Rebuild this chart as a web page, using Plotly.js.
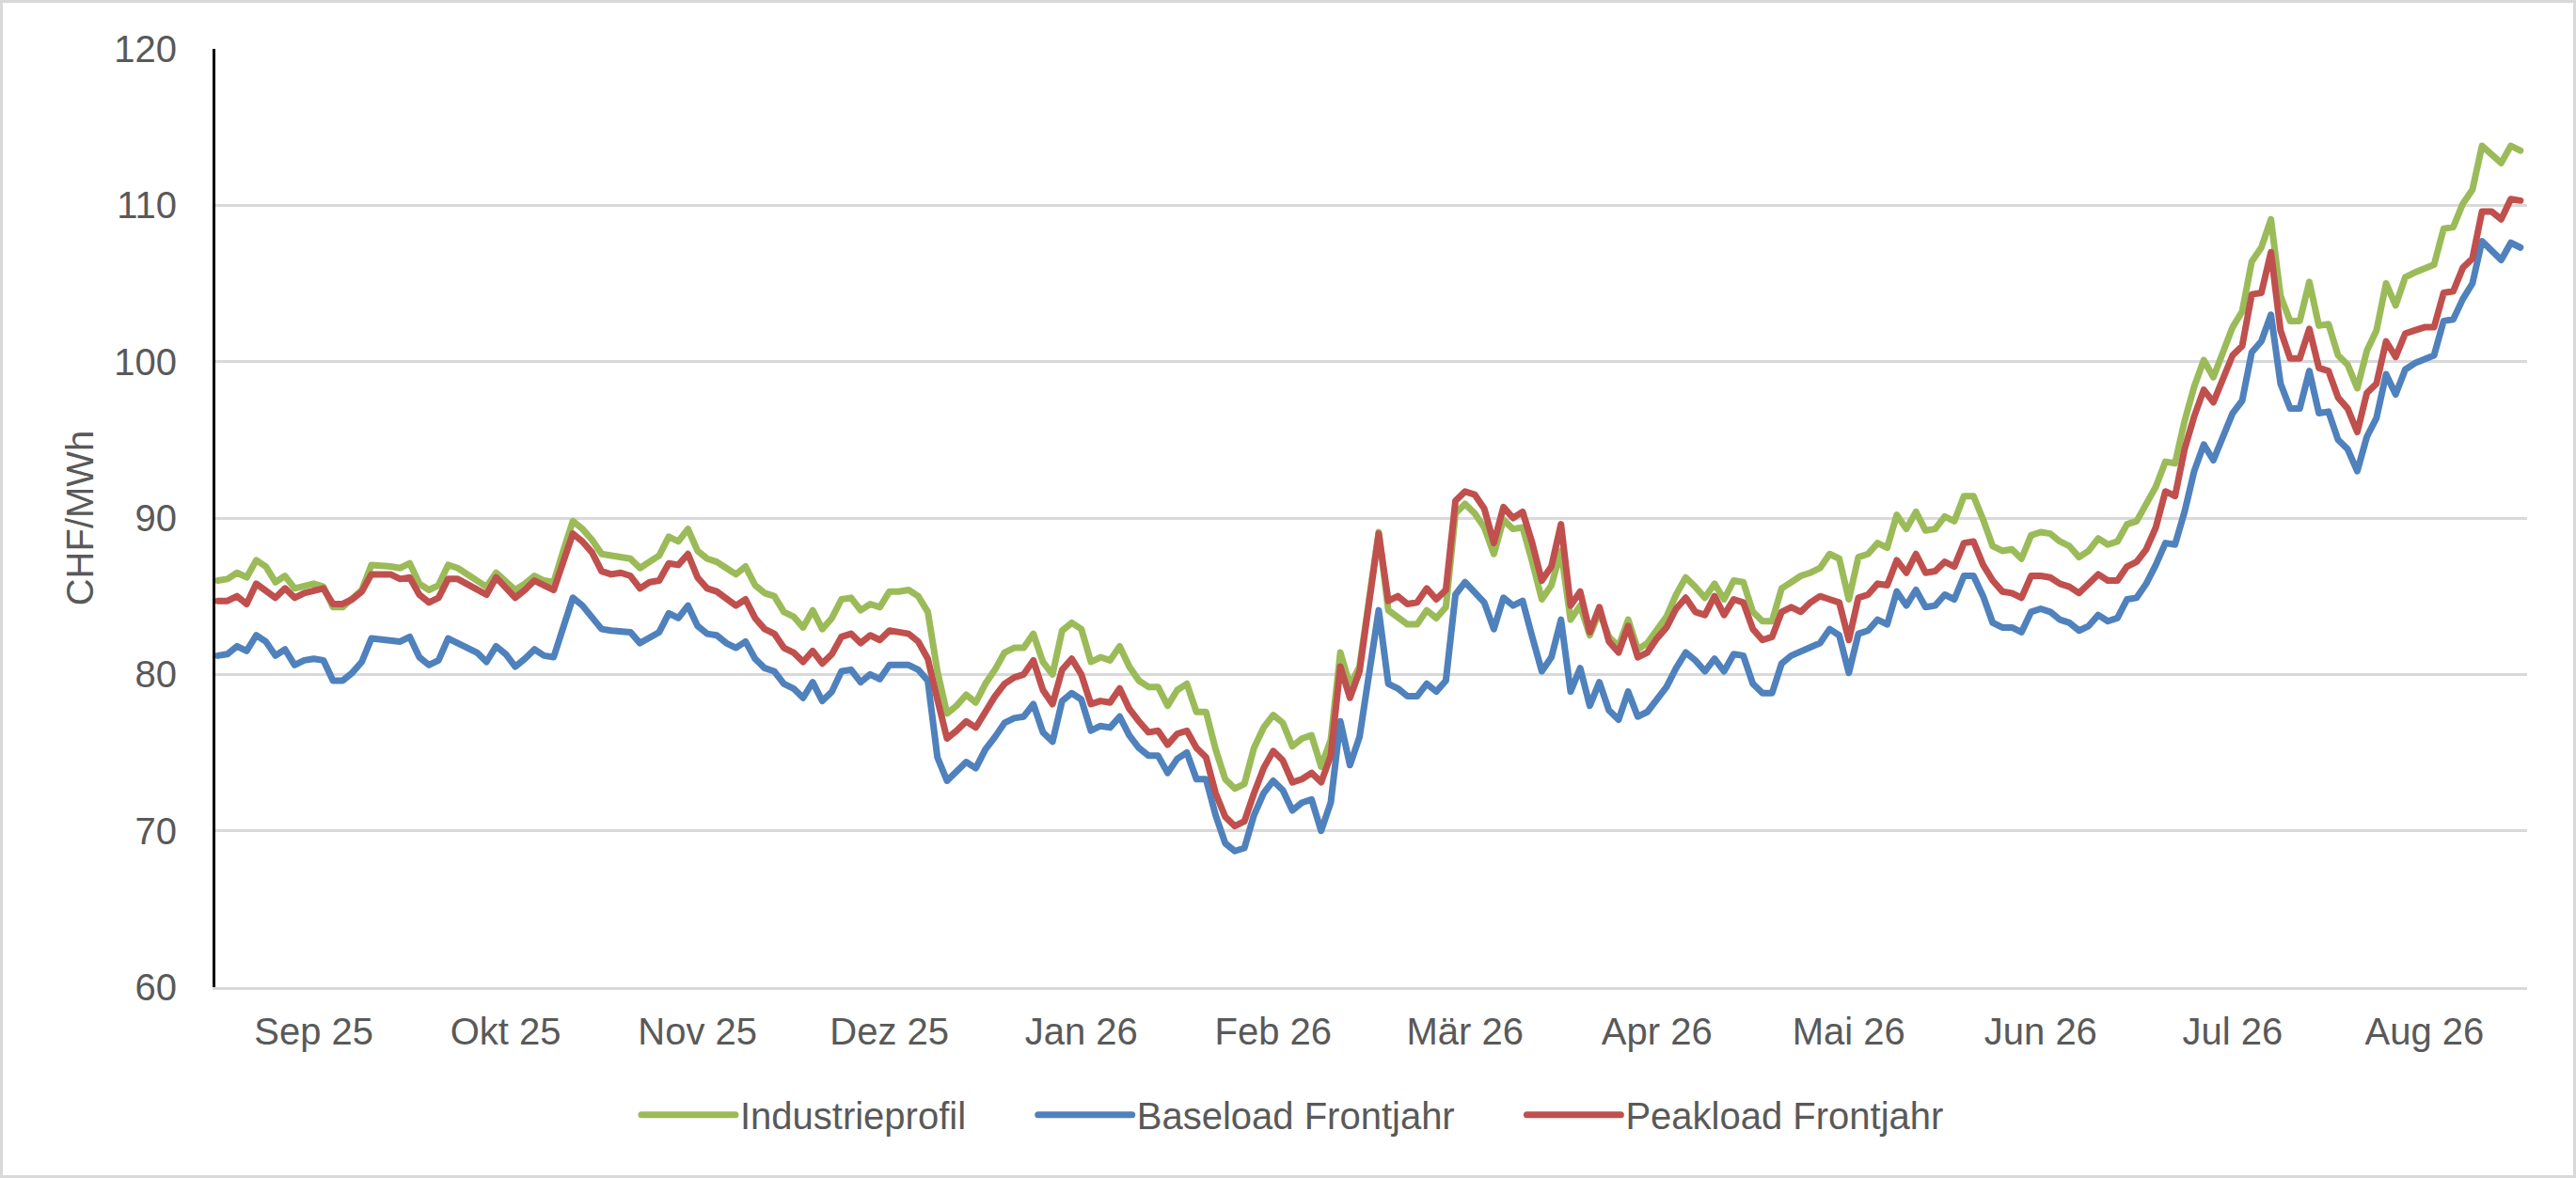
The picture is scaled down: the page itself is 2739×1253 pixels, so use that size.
<!DOCTYPE html>
<html>
<head>
<meta charset="utf-8">
<script src="https://cdn.plot.ly/plotly-3.0.1.min.js"></script>
<style>
  html, body { margin: 0; padding: 0; background: #fff; }
  #plot { width: 2733px; height: 1247px; border: 3px solid #d9d9d9; }
  #plot path.js-line { stroke-linejoin: round; stroke-linecap: round; }
</style>
</head>
<body>
<div id="plot"></div>
<script>
// Tageswerte (Handelstage), CHF/MWh
var monthLabels = ['Sep 25', 'Okt 25', 'Nov 25', 'Dez 25', 'Jan 26', 'Feb 26',
                   'Mär 26', 'Apr 26', 'Mai 26', 'Jun 26', 'Jul 26', 'Aug 26'];

var industrieprofil = [
  86.0, 86.1, 86.5, 86.2, 87.3, 86.9, 85.9, 86.3, 85.5, 85.7,
  85.8, 85.6, 84.3, 84.3, 84.8, 85.4, 87.0, 87.0, 86.9, 86.8,
  87.1, 85.8, 85.4, 85.7, 87.0, 86.8, 86.4, 86.1, 85.6, 86.5,
  86.0, 85.4, 85.8, 86.3, 86.0, 85.9, 87.9, 89.8, 89.3, 88.6,
  87.7, 87.6, 87.6, 87.4, 86.8, 87.2, 87.6, 88.8, 88.5, 89.3,
  87.9, 87.4, 87.2, 86.8, 86.4, 86.9, 85.7, 85.2, 85.0, 84.0,
  83.7, 83.0, 84.1, 82.9, 83.6, 84.8, 84.9, 84.1, 84.5, 84.3,
  85.3, 85.3, 85.4, 85.0, 84.0, 80.2, 77.5, 78.0, 78.7, 78.2,
  79.4, 80.3, 81.4, 81.7, 81.7, 82.6, 80.8, 80.0, 82.8, 83.3,
  82.9, 80.8, 81.1, 80.9, 81.8, 80.5, 79.6, 79.2, 79.2, 78.0,
  79.0, 79.4, 77.6, 77.6, 75.2, 73.3, 72.7, 73.0, 75.3, 76.6,
  77.4, 76.9, 75.4, 75.9, 76.1, 74.1, 75.8, 81.4, 79.3, 80.5,
  84.8, 89.1, 84.1, 83.7, 83.2, 83.2, 84.1, 83.6, 84.3, 90.3,
  90.9, 90.3, 89.4, 87.7, 89.9, 89.3, 89.4, 87.2, 84.8, 85.7,
  87.9, 83.5, 84.4, 82.5, 84.0, 82.4, 81.8, 83.5, 81.6, 82.0,
  82.8, 83.7, 85.1, 86.2, 85.6, 84.9, 85.8, 84.8, 86.0, 85.9,
  84.0, 83.4, 83.4, 85.5, 85.9, 86.3, 86.5, 86.8, 87.7, 87.4,
  84.8, 87.5, 87.7, 88.4, 88.1, 90.2, 89.3, 90.4, 89.2, 89.3,
  90.1, 89.8, 91.4, 91.4, 89.9, 88.2, 87.9, 88.0, 87.4, 88.9,
  89.1, 89.0, 88.5, 88.2, 87.5, 87.9, 88.7, 88.3, 88.5, 89.6,
  89.8, 90.8, 92.0, 93.6, 93.5, 96.2, 98.4, 100.1, 99.0, 100.6,
  102.2, 103.2, 106.4, 107.3, 109.1, 104.2, 102.6, 102.6, 105.1, 102.3,
  102.4, 100.4, 99.8, 98.3, 100.7, 102.0, 105.0, 103.6, 105.4, 105.7,
  106.0, 106.2, 108.5, 108.6, 110.1, 111.0, 113.8, 113.3, 112.7, 113.8,
  113.5
];

var baseloadFrontjahr = [
  81.2, 81.3, 81.8, 81.5, 82.5, 82.1, 81.2, 81.6, 80.6, 80.9,
  81.0, 80.9, 79.6, 79.6, 80.1, 80.8, 82.3, 82.2, 82.2, 82.1,
  82.4, 81.1, 80.6, 80.9, 82.3, 82.0, 81.7, 81.4, 80.8, 81.8,
  81.3, 80.5, 81.0, 81.6, 81.2, 81.1, 83.0, 84.9, 84.4, 83.6,
  82.9, 82.8, 82.8, 82.7, 82.0, 82.4, 82.7, 83.9, 83.6, 84.4,
  83.1, 82.6, 82.5, 82.0, 81.7, 82.1, 81.0, 80.4, 80.2, 79.4,
  79.1, 78.5, 79.5, 78.3, 78.9, 80.2, 80.3, 79.5, 80.0, 79.7,
  80.6, 80.6, 80.6, 80.3, 79.6, 74.7, 73.2, 73.8, 74.4, 74.0,
  75.2, 76.0, 76.9, 77.2, 77.3, 78.1, 76.3, 75.7, 78.3, 78.8,
  78.4, 76.4, 76.7, 76.6, 77.3, 76.1, 75.3, 74.8, 74.8, 73.7,
  74.6, 75.0, 73.3, 73.3, 71.0, 69.2, 68.7, 68.9, 71.0, 72.4,
  73.2, 72.6, 71.3, 71.8, 72.0, 70.0, 71.8, 77.0, 74.2, 76.0,
  80.0, 84.1, 79.4, 79.1, 78.6, 78.6, 79.4, 78.9, 79.6, 85.1,
  85.9, 85.3, 84.6, 82.9, 84.9, 84.4, 84.7, 82.4, 80.2, 81.1,
  83.5, 78.9, 80.4, 78.0, 79.5, 77.7, 77.1, 78.9, 77.3, 77.6,
  78.4, 79.2, 80.4, 81.4, 80.9, 80.2, 81.0, 80.2, 81.3, 81.2,
  79.4, 78.8, 78.8, 80.7, 81.2, 81.5, 81.7, 82.0, 82.9, 82.5,
  80.1, 82.6, 82.8, 83.5, 83.2, 85.3, 84.4, 85.4, 84.3, 84.4,
  85.1, 84.8, 86.3, 86.3, 85.0, 83.3, 83.0, 83.0, 82.7, 84.0,
  84.2, 84.0, 83.5, 83.3, 82.8, 83.1, 83.8, 83.4, 83.6, 84.8,
  84.9, 85.8, 87.0, 88.4, 88.3, 90.4, 93.0, 94.7, 93.7, 95.3,
  96.7, 97.5, 100.6, 101.3, 103.0, 98.6, 97.0, 97.0, 99.4, 96.7,
  96.8, 95.0, 94.4, 93.0, 95.2, 96.4, 99.2, 97.9, 99.5, 99.9,
  100.1, 100.4, 102.6, 102.7, 104.0, 105.0, 107.7, 107.1, 106.5, 107.6,
  107.3
];

var peakloadFrontjahr = [
  84.7, 84.7, 85.0, 84.5, 85.8, 85.4, 84.9, 85.5, 84.9, 85.2,
  85.3, 85.5, 84.5, 84.5, 84.8, 85.3, 86.4, 86.4, 86.4, 86.1,
  86.2, 85.1, 84.6, 84.9, 86.1, 86.1, 85.8, 85.5, 85.1, 86.2,
  85.6, 84.9, 85.4, 86.0, 85.7, 85.4, 87.2, 89.0, 88.5, 87.8,
  86.6, 86.4, 86.5, 86.3, 85.5, 85.9, 86.0, 87.1, 87.0, 87.7,
  86.2, 85.5, 85.3, 84.8, 84.4, 84.8, 83.6, 82.9, 82.6, 81.7,
  81.4, 80.8, 81.5, 80.7, 81.3, 82.4, 82.6, 82.0, 82.5, 82.2,
  82.8, 82.7, 82.6, 82.1, 81.0, 78.4, 75.9, 76.4, 77.0, 76.6,
  77.7, 78.6, 79.4, 79.8, 80.0, 80.9, 79.0, 78.1, 80.3, 81.0,
  80.0, 78.1, 78.3, 78.2, 79.1, 77.8, 77.0, 76.3, 76.4, 75.5,
  76.2, 76.4, 75.3, 74.7, 72.4, 70.9, 70.3, 70.6, 72.4, 74.0,
  75.1, 74.5, 73.1, 73.3, 73.7, 73.1, 74.8, 80.5, 78.5, 80.2,
  84.6, 89.0, 84.7, 85.0, 84.5, 84.6, 85.5, 84.8, 85.4, 91.1,
  91.7, 91.5, 90.6, 88.4, 90.7, 90.0, 90.4, 88.4, 86.0, 86.9,
  89.6, 84.4, 85.3, 82.7, 84.3, 82.1, 81.4, 83.1, 81.1, 81.4,
  82.3, 83.0, 84.2, 84.9, 84.0, 83.8, 85.0, 83.8, 84.8, 84.6,
  82.9, 82.2, 82.4, 84.0, 84.3, 84.0, 84.6, 85.0, 84.8, 84.6,
  82.2, 84.9, 85.1, 85.8, 85.7, 87.3, 86.5, 87.7, 86.5, 86.6,
  87.2, 86.9, 88.4, 88.5, 87.0, 86.0, 85.3, 85.2, 84.9, 86.3,
  86.3, 86.2, 85.8, 85.6, 85.2, 85.8, 86.4, 86.0, 86.0, 86.9,
  87.2, 88.0, 89.4, 91.7, 91.4, 94.4, 96.5, 98.2, 97.4, 98.9,
  100.4, 101.0, 104.3, 104.4, 107.0, 102.0, 100.2, 100.2, 102.1, 99.6,
  99.4, 97.7, 97.0, 95.5, 98.0, 98.6, 101.3, 100.3, 101.8, 102.0,
  102.2, 102.2, 104.4, 104.5, 106.0, 106.6, 109.6, 109.6, 109.1, 110.4,
  110.3
];

var FONT = 'Liberation Sans, Arial, sans-serif';
var GREY = '#595959';
// Abstand zwischen den Legendeneinträgen (geschützte Leerzeichen)
var GAP = '\u00A0\u00A0\u00A0\u00A0\u00A0\u00A0';

// Handelstag-Index als x; Monatsbeschriftung je 20 Handelstage
var tage = industrieprofil.map(function (v, i) { return i; });
var tickPos = monthLabels.map(function (m, k) { return 20 * k + 10; });

function serie(name, values, color) {
  return {
    type: 'scatter',
    mode: 'lines',
    name: name,
    x: tage,
    y: values,
    line: {color: color, width: 7},
    hoverinfo: 'skip'
  };
}

var data = [
  serie('Industrieprofil' + GAP, industrieprofil, '#9BBB59'),
  serie('Baseload Frontjahr' + GAP, baseloadFrontjahr, '#4F81BD'),
  serie('Peakload Frontjahr', peakloadFrontjahr, '#C0504D')
];

var layout = {
  width: 2733,
  height: 1247,
  margin: {l: 226, r: 49, t: 49, b: 200},
  paper_bgcolor: '#fff',
  plot_bgcolor: '#fff',
  font: {family: FONT, size: 40, color: GREY},
  showlegend: true,
  legend: {
    orientation: 'h',
    x: 0.466, xanchor: 'center',
    y: -0.136, yanchor: 'middle',
    font: {family: FONT, size: 40, color: GREY},
    itemwidth: 100,
    bgcolor: 'rgba(0,0,0,0)'
  },
  xaxis: {
    type: 'linear',
    range: [-0.26, 240.7],
    tickmode: 'array',
    tickvals: tickPos,
    ticktext: monthLabels,
    showgrid: false,
    zeroline: false,
    showline: true,
    linecolor: '#d9d9d9',
    linewidth: 3,
    ticks: '',
    ticklabelstandoff: 10,
    tickfont: {family: FONT, size: 40, color: GREY}
  },
  yaxis: {
    range: [60, 120],
    tick0: 60,
    dtick: 10,
    showgrid: true,
    gridcolor: '#d9d9d9',
    gridwidth: 3,
    zeroline: false,
    showline: true,
    linecolor: '#000',
    linewidth: 3,
    ticks: '',
    ticklabelstandoff: 30,
    tickfont: {family: FONT, size: 40, color: GREY},
    title: {
      text: 'CHF/MWh',
      standoff: 10,
      font: {family: FONT, size: 40, color: GREY}
    }
  }
};

Plotly.newPlot('plot', data, layout, {displayModeBar: false, staticPlot: true});
</script>
</body>
</html>
